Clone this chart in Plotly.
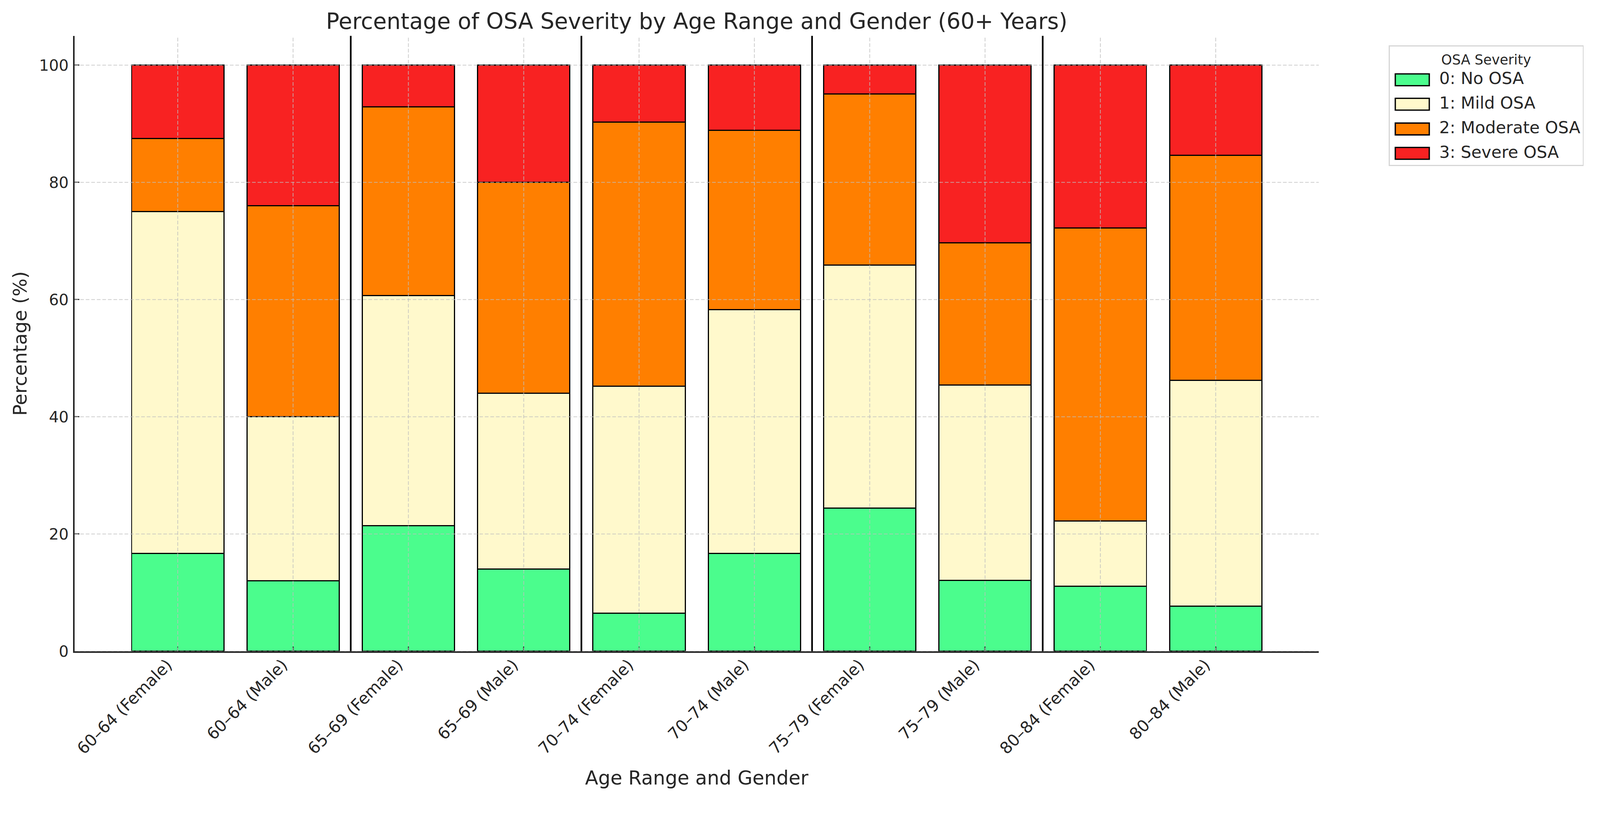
import plotly.graph_objects as go

categories = ["60–64 (Female)", "60–64 (Male)", "65–69 (Female)", "65–69 (Male)",
              "70–74 (Female)", "70–74 (Male)", "75–79 (Female)", "75–79 (Male)",
              "80–84 (Female)", "80–84 (Male)"]
no_osa = [16.7, 12.0, 21.4, 14.0, 6.5, 16.7, 24.4, 12.1, 11.1, 7.7]
mild_osa = [58.3, 28.0, 39.3, 30.0, 38.7, 41.6, 41.5, 33.3, 11.1, 38.5]
moderate_osa = [12.5, 36.0, 32.2, 36.0, 45.1, 30.6, 29.2, 24.3, 50.0, 38.4]
severe_osa = [12.5, 24.0, 7.1, 20.0, 9.7, 11.1, 4.9, 30.3, 27.8, 15.4]
series_names = ["0: No OSA", "1: Mild OSA", "2: Moderate OSA", "3: Severe OSA"]
series_colors = ["#4BFD8D", "#FFF9CC", "#FF7F00", "#F82222"]
y_ticks = [0, 20, 40, 60, 80, 100]
group_separators = [1.5, 3.5, 5.5, 7.5]

W, H = 4330, 2150
M_L, M_R, M_T, M_B = 202, 761, 97, 388
PW, PH = W - M_L - M_R, H - M_T - M_B
FONT = "DejaVu Sans"
TXT = "#262626"
GRID = dict(color="rgba(190,190,190,0.75)", width=2.2, dash="10px,5px")


def px_x(px):  # figure pixel -> paper x
    return (px - M_L) / PW


def px_y(py):  # figure pixel (from top) -> paper y
    return (H - M_B - py) / PH


fig = go.Figure()
for name, vals, col in zip(series_names, [no_osa, mild_osa, moderate_osa, severe_osa], series_colors):
    fig.add_trace(go.Bar(
        x=categories, y=vals, name=name, legendgroup=name, showlegend=False, width=0.8,
        marker=dict(color=col, line=dict(color="black", width=3)),
    ))
# legend entries (same series, legend only)
for name, col in zip(series_names, series_colors):
    fig.add_trace(go.Bar(
        x=[categories[0]], y=[0], name=name, legendgroup=name, showlegend=True, width=0.8,
        marker=dict(color=col, line=dict(width=0)), hoverinfo="skip",
    ))

shapes = []
for yv in y_ticks:
    shapes.append(dict(type="line", xref="paper", yref="y", x0=0, x1=1, y0=yv, y1=yv,
                       line=GRID, layer="above"))
for i in range(len(categories)):
    shapes.append(dict(type="line", xref="x", yref="paper", x0=i, x1=i, y0=0, y1=1,
                       line=GRID, layer="above"))
for xs in group_separators:
    shapes.append(dict(type="line", xref="x", yref="paper", x0=xs, x1=xs, y0=0, y1=1,
                       line=dict(color="black", width=4.5), layer="above"))
# larger legend patches (matplotlib-style) behind the legend symbols
row_centers = [216, 282, 349, 415]
for col, yc in zip(series_colors, row_centers):
    shapes.append(dict(type="rect", xref="paper", yref="paper",
                       x0=px_x(3776), x1=px_x(3868), y0=px_y(yc + 16), y1=px_y(yc - 16),
                       fillcolor=col, line=dict(color="black", width=3.5), layer="above"))

fig.update_layout(
    width=W, height=H,
    barmode="stack",
    plot_bgcolor="white", paper_bgcolor="white",
    margin=dict(l=M_L, r=M_R, t=M_T, b=M_B),
    font=dict(family=FONT, color=TXT),
    title=dict(text="Percentage of OSA Severity by Age Range and Gender (60+ Years)",
               x=0.5, xref="paper", xanchor="center",
               y=1 - 57 / H, yref="container", yanchor="middle",
               font=dict(size=60, family=FONT, color=TXT)),
    xaxis=dict(type="category", range=[-0.894, 9.894],
               showgrid=False, showline=True, linecolor=TXT, linewidth=3.5,
               ticks="inside", ticklen=13, tickwidth=3, tickcolor=TXT,
               tickangle=-45, ticklabelstandoff=-10, ticklabelshift=-28,
               tickfont=dict(size=44, family=FONT, color=TXT),
               title=dict(text="Age Range and Gender", font=dict(size=52, family=FONT, color=TXT),
                          standoff=38),
               layer="above traces"),
    yaxis=dict(range=[0, 105], tickvals=y_ticks,
               showgrid=False, zeroline=False, showline=True, linecolor=TXT, linewidth=3.5,
               ticks="inside", ticklen=13, tickwidth=3, tickcolor=TXT,
               ticklabelstandoff=4,
               tickfont=dict(size=42, family=FONT, color=TXT),
               title=dict(text="Percentage (%)", font=dict(size=51, family=FONT, color=TXT),
                          standoff=18),
               layer="above traces"),
    legend=dict(x=px_x(3758), y=px_y(123), xanchor="left", yanchor="top",
                traceorder="grouped", bordercolor="#d6d6d6", borderwidth=3,
                bgcolor="rgba(255,255,255,0)", font=dict(size=45, family=FONT, color=TXT),
                title=dict(text="OSA Severity", side="top center",
                           font=dict(size=37, family=FONT, color=TXT)),
                tracegroupgap=5, itemwidth=124),
    shapes=shapes,
)

# make the fixed-size figure fit the browser viewport exactly
fit_js = """
var gd = document.getElementById('{plot_id}');
document.documentElement.style.margin = '0';
document.body.style.margin = '0';
document.body.style.overflow = 'hidden';
var vw = document.documentElement.clientWidth || window.innerWidth;
var vh = window.innerHeight || document.documentElement.clientHeight;
var k = Math.min(vw / %d, vh / %d);
gd.style.transformOrigin = '0 0';
gd.style.transform = 'scale(' + k + ')';
""" % (W, H)

fig.write_html("out.html", post_script=fit_js, config={"displayModeBar": False})
